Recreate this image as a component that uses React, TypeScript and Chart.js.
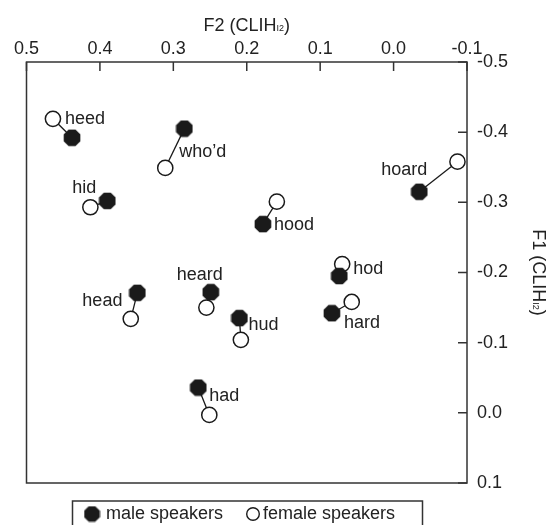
import React, { useEffect, useRef } from "react";
import { Chart, registerables } from "chart.js";

Chart.register(...registerables);

// ---- data ----
const vowels = ["heed", "hid", "head", "had", "hard", "hod", "hoard", "hood", "who’d", "hud", "heard"];
const maleF2 = [0.438, 0.390, 0.349, 0.266, 0.084, 0.074, -0.035, 0.178, 0.285, 0.210, 0.249];
const maleF1 = [-0.392, -0.302, -0.171, -0.036, -0.142, -0.195, -0.315, -0.269, -0.405, -0.135, -0.172];
const femaleF2 = [0.464, 0.413, 0.358, 0.251, 0.057, 0.070, -0.087, 0.159, 0.311, 0.208, 0.255];
const femaleF1 = [-0.419, -0.293, -0.134, 0.003, -0.158, -0.212, -0.358, -0.301, -0.349, -0.104, -0.150];
const xTicks = [0.5, 0.4, 0.3, 0.2, 0.1, 0.0, -0.1];
const yTicks = [-0.5, -0.4, -0.3, -0.2, -0.1, 0.0, 0.1];
const legendLabels = ["male speakers", "female speakers"];

// label placement (pixel offsets from the male point) – layout only
const labelOffsets: [number, number][] = [
  [-7, -19], [-35, -13], [-55, 8], [11, 8], [12, 10], [14, -7],
  [-38, -22], [11, 1], [-5, 23], [9, 7], [-34, -17],
];

const FONT = "Arial, 'Liberation Sans', Helvetica, sans-serif";
const INK = "#1a1a1a";
const TXT = "#222";
const FS = 18;

function makeOctagon(size: number, color: string) {
  const c = document.createElement("canvas");
  c.width = size;
  c.height = size;
  const g = c.getContext("2d")!;
  const r = size / 2;
  g.beginPath();
  for (let k = 0; k < 8; k++) {
    const a = (Math.PI / 8) + (k * Math.PI) / 4;
    const x = r + r * Math.cos(a);
    const y = r + r * Math.sin(a);
    if (k === 0) g.moveTo(x, y);
    else g.lineTo(x, y);
  }
  g.closePath();
  g.fillStyle = color;
  g.fill();
  return c;
}

function drawTitle(ctx: CanvasRenderingContext2D, cx: number, cy: number, main: string) {
  const big = `${FS}px ${FONT}`;
  const small = `9px ${FONT}`;
  const parts: [string, string][] = [[main + " (CLIH", big], ["I2", small], [")", big]];
  let total = 0;
  const widths = parts.map(([t, f]) => {
    ctx.font = f;
    const w = ctx.measureText(t).width;
    total += w;
    return w;
  });
  let x = cx - total / 2;
  ctx.textAlign = "left";
  ctx.textBaseline = "alphabetic";
  parts.forEach(([t, f], i) => {
    ctx.font = f;
    ctx.fillText(t, x, cy);
    x += widths[i];
  });
}

export default function App() {
  const ref = useRef<HTMLCanvasElement | null>(null);

  useEffect(() => {
    const canvas = ref.current;
    if (!canvas) return;
    const octagon = makeOctagon(18, INK);
    const legendOct = makeOctagon(17, INK);

    const pairLines = vowels.map((_, i) => ({
      type: "scatter" as const,
      data: [
        { x: maleF2[i], y: maleF1[i] },
        { x: femaleF2[i], y: femaleF1[i] },
      ],
      showLine: true,
      borderColor: INK,
      borderWidth: 1.3,
      pointRadius: 0,
      order: 2,
    }));

    const decor = {
      id: "decor",
      afterDraw(chart: any) {
        const ctx: CanvasRenderingContext2D = chart.ctx;
        const { left, right, top, bottom } = chart.chartArea;
        const xs = chart.scales.x;
        const ys = chart.scales.y;
        ctx.save();
        ctx.strokeStyle = "#333";
        ctx.lineWidth = 1.5;
        ctx.strokeRect(left, top, right - left, bottom - top);
        ctx.beginPath();
        xs.ticks.forEach((t: any) => {
          const p = xs.getPixelForValue(t.value);
          ctx.moveTo(p, top);
          ctx.lineTo(p, top + 9);
        });
        ys.ticks.forEach((t: any) => {
          const p = ys.getPixelForValue(t.value);
          ctx.moveTo(right - 9, p);
          ctx.lineTo(right, p);
        });
        ctx.stroke();

        // point labels
        ctx.fillStyle = TXT;
        ctx.font = `${FS}px ${FONT}`;
        ctx.textAlign = "left";
        ctx.textBaseline = "middle";
        vowels.forEach((w, i) => {
          const px = xs.getPixelForValue(maleF2[i]);
          const py = ys.getPixelForValue(maleF1[i]);
          ctx.fillText(w, px + labelOffsets[i][0], py + labelOffsets[i][1]);
        });

        // axis titles
        drawTitle(ctx, (left + right) / 2, 31, "F2");
        ctx.save();
        ctx.translate(533, (top + bottom) / 2);
        ctx.rotate(Math.PI / 2);
        drawTitle(ctx, 0, 0, "F1");
        ctx.restore();

        // legend
        ctx.strokeStyle = "#333";
        ctx.lineWidth = 1.5;
        ctx.strokeRect(72.5, 501, 350, 40);
        const ly = 514;
        ctx.drawImage(legendOct, 92 - 8.5, ly - 8.5);
        ctx.fillStyle = TXT;
        ctx.font = `${FS}px ${FONT}`;
        ctx.textBaseline = "middle";
        ctx.fillText(legendLabels[0], 106, ly);
        ctx.beginPath();
        ctx.arc(253, ly, 6.3, 0, Math.PI * 2);
        ctx.fillStyle = "#fff";
        ctx.fill();
        ctx.strokeStyle = INK;
        ctx.lineWidth = 1.4;
        ctx.stroke();
        ctx.fillStyle = TXT;
        ctx.fillText(legendLabels[1], 263, ly);
        ctx.restore();
      },
    };

    const chart = new Chart(canvas, {
      type: "scatter",
      data: {
        datasets: [
          {
            label: legendLabels[0],
            data: vowels.map((_, i) => ({ x: maleF2[i], y: maleF1[i] })),
            pointStyle: octagon as any,
            pointRadius: 9,
            order: 0,
          },
          {
            label: legendLabels[1],
            data: vowels.map((_, i) => ({ x: femaleF2[i], y: femaleF1[i] })),
            pointStyle: "circle",
            pointRadius: 7.6,
            backgroundColor: "#ffffff",
            borderColor: INK,
            borderWidth: 1.5,
            order: 1,
          },
          ...pairLines,
        ] as any,
      },
      options: {
        responsive: false,
        animation: false,
        events: [],
        layout: { padding: { left: 26.5, top: 0, right: 0, bottom: 42 } },
        plugins: {
          legend: { display: false },
          tooltip: { enabled: false },
          title: { display: false },
        },
        scales: {
          x: {
            type: "linear",
            position: "top",
            min: -0.1,
            max: 0.5,
            reverse: true,
            afterBuildTicks: (s: any) => {
              s.ticks = xTicks.map((v) => ({ value: v }));
            },
            afterFit: (s: any) => {
              s.height = 62;
            },
            grid: { display: false, drawTicks: false },
            border: { display: false },
            ticks: {
              padding: 2,
              color: TXT,
              font: { family: FONT, size: FS },
              maxRotation: 0,
              callback: (v: any) => Number(v).toFixed(1),
            },
          },
          y: {
            type: "linear",
            position: "right",
            min: -0.5,
            max: 0.1,
            reverse: true,
            afterBuildTicks: (s: any) => {
              s.ticks = yTicks.map((v) => ({ value: v }));
            },
            afterFit: (s: any) => {
              s.width = 88;
            },
            grid: { display: false, drawTicks: false },
            border: { display: false },
            ticks: {
              padding: 10,
              color: TXT,
              font: { family: FONT, size: FS },
              callback: (v: any) => Number(v).toFixed(1),
            },
          },
        },
      },
      plugins: [decor],
    });
    return () => chart.destroy();
  }, []);

  return (
    <div style={{ position: "absolute", left: 0, top: 0, width: 555, height: 525, background: "#fff" }}>
      <canvas ref={ref} width={555} height={525} style={{ display: "block", width: 555, height: 525 }} />
    </div>
  );
}
